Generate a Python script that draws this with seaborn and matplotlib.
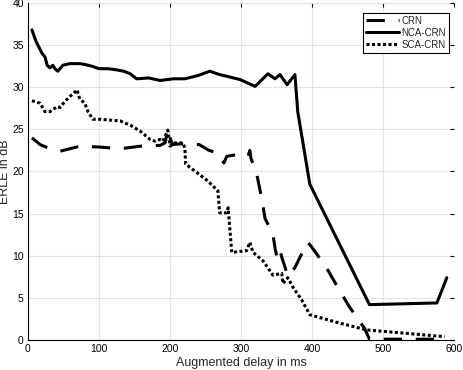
import pandas as pd
import matplotlib
matplotlib.use("Agg")
import matplotlib.pyplot as plt
import seaborn as sns

# ERLE curves (delay in ms, ERLE in dB)
crn_delay = [5.6, 17, 31, 45, 59, 73, 101, 130, 158, 186, 193, 197, 203, 218, 241,
             255, 267, 276, 280, 294, 310, 312.5, 314, 322, 329, 334, 345, 348, 351,
             355, 358, 366, 376, 383, 394, 400, 411, 421, 436, 453, 474, 481, 590]
crn_erle = [24.0, 23.2, 22.7, 22.4, 22.7, 23.0, 22.9, 22.7, 23.0, 23.1, 23.4, 25.0, 23.2,
            23.3, 23.2, 22.5, 22.2, 21.0, 21.8, 22.0, 21.8, 22.5, 21.6, 19.8, 16.9, 14.4,
            12.6, 10.9, 9.7, 10.6, 9.7, 7.6, 8.6, 9.8, 11.6, 11.0, 9.7, 8.5, 6.3, 3.9,
            1.4, 0.1, 0.1]

nca_delay = [5.6, 11, 14, 20, 24, 27, 31, 35, 38, 42, 49, 59, 73, 80, 90, 100, 112,
             122, 135, 144, 153, 170, 186, 205, 221, 240, 256, 270, 285, 299, 312, 320,
             338, 348, 355, 365, 376, 380, 397, 481, 576, 590]
nca_erle = [36.8, 35.5, 35.0, 34.0, 33.6, 32.6, 32.3, 32.6, 32.2, 31.9, 32.6, 32.8, 32.8,
            32.7, 32.5, 32.2, 32.2, 32.1, 31.9, 31.6, 31.0, 31.1, 30.8, 31.0, 31.0, 31.4,
            31.9, 31.5, 31.2, 30.9, 30.4, 30.1, 31.6, 31.0, 31.5, 30.3, 31.5, 27.1, 18.5,
            4.2, 4.4, 7.4]

sca_delay = [5.6, 17, 24, 31, 41, 45, 52, 59, 66, 69, 73, 80, 84.5, 91.5, 101, 130, 144,
             158, 172, 179, 186, 190, 197, 200, 207, 218, 221, 222, 225, 253, 267.5, 270,
             280, 282, 287, 308, 312.5, 317, 331, 345, 357.5, 359, 366, 373, 386, 397,
             435, 477, 587]
sca_erle = [28.4, 28.1, 27.1, 27.1, 27.7, 27.6, 28.3, 28.9, 29.4, 29.7, 28.6, 28.1, 27.1,
            26.2, 26.2, 26.0, 25.5, 24.8, 23.8, 23.6, 23.8, 23.6, 24.9, 23.0, 23.4, 23.4,
            22.8, 20.9, 20.7, 18.9, 17.7, 15.1, 15.1, 15.7, 10.4, 10.6, 11.6, 10.4, 9.4,
            7.7, 7.9, 6.7, 7.4, 6.3, 4.7, 3.0, 2.1, 1.2, 0.4]

df = pd.concat([
    pd.DataFrame({"delay": crn_delay, "erle": crn_erle, "model": "CRN"}),
    pd.DataFrame({"delay": nca_delay, "erle": nca_erle, "model": "NCA-CRN"}),
    pd.DataFrame({"delay": sca_delay, "erle": sca_erle, "model": "SCA-CRN"}),
])

sns.set_theme(style="white")
plt.rcParams["font.family"] = ["Liberation Sans", "DejaVu Sans"]

fig = plt.figure(figsize=(4.64, 3.70), dpi=100)
ax = fig.add_axes([0.0603, 0.081, 0.918, 0.911])

styles = {"CRN": (6, 4.5), "NCA-CRN": "", "SCA-CRN": (1, 0.8)}
for name in ["CRN", "NCA-CRN", "SCA-CRN"]:
    sub = df[df["model"] == name]
    sns.lineplot(data=sub, x="delay", y="erle", ax=ax, color="black", lw=2.2,
                 estimator=None, sort=False, label=name)
    line = ax.lines[-1]
    if styles[name]:
        line.set_dashes(styles[name])

ax.set_xlim(0, 600)
ax.set_ylim(0, 40)
ax.set_xticks(range(0, 601, 100))
ax.set_yticks(range(0, 41, 5))
ax.grid(True, color="#e3e3e3", lw=0.8)
ax.tick_params(direction="in", length=3, width=0.8, labelsize=7.5, colors="black",
               top=True, right=True, pad=3)
for s in ["top", "right"]:
    ax.spines[s].set_visible(False)
for s in ["left", "bottom"]:
    ax.spines[s].set_color("black")
    ax.spines[s].set_linewidth(0.8)

ax.set_xlabel("Augmented delay in ms", fontsize=9, labelpad=2)
ax.set_ylabel("ERLE in dB", fontsize=9, labelpad=1)

leg = ax.legend(loc="upper right", fontsize=7, frameon=True, fancybox=False,
                framealpha=1, edgecolor="black", handlelength=3.4,
                borderpad=0.3, labelspacing=0.2, handletextpad=0.2,
                bbox_to_anchor=(0.999, 0.985))
leg.get_frame().set_linewidth(0.8)

fig.savefig("out.png", dpi=100)
